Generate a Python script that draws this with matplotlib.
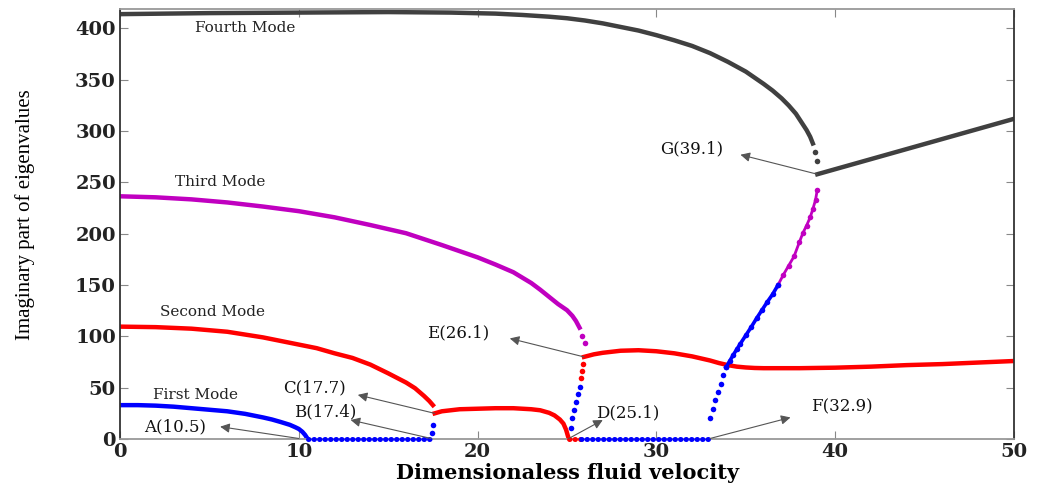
import matplotlib
matplotlib.use("Agg")
import matplotlib.pyplot as plt

BLUE = "#0000ff"
RED = "#ff0000"
MAGENTA = "#c000c0"
GREY = "#404040"

# first mode (blue)
m1_x = [0, 1, 2, 3, 4, 5, 6, 7, 8, 8.5, 9, 9.5, 9.8, 10, 10.2, 10.35, 10.5]
m1_y = [33, 33, 32.5, 31.5, 30, 28.5, 27, 24.5, 21, 19, 16.5, 13.8, 11.5, 9.8, 7, 4, 0]
m1_zero_x = [10.5, 17.4]
m1_jump_x = [17.45, 17.5]
m1_jump_y = [6, 14]

# second mode (red)
m2a_x = [0, 2, 4, 6, 8, 10, 11, 12, 13, 14, 15, 16, 16.5, 17, 17.3, 17.5]
m2a_y = [109.5, 109, 107.5, 104.5, 99, 92, 88.5, 83.5, 79, 72.5, 64, 55, 49.5, 42, 37, 33]
m2b_x = [17.6, 18, 18.5, 19, 20, 21, 22, 23, 23.5, 24, 24.3, 24.6, 24.8, 24.95, 25.1]
m2b_y = [25, 27, 28, 29, 29.5, 30, 30, 29, 28, 25.5, 23, 19, 15, 9, 0]
m2_zero_x = [25.1, 25.8]
mix_blue_x = [25.2, 25.3, 25.4, 25.5, 25.6, 25.7]
mix_blue_y = [11, 20, 28, 36, 44, 51]
mix_red_x = [25.8, 25.85, 25.9]
mix_red_y = [59, 66, 73]
m2c_x = [25.95, 26.5, 27, 28, 29, 30, 31, 32, 32.5, 33, 33.5, 34, 34.5, 35, 35.5, 36, 38, 40,
         42, 44, 46, 48, 50]
m2c_y = [80, 82.5, 84, 86, 86.5, 85.5, 83.5, 80.5, 78.5, 76.5, 74, 72, 70.5, 69.7, 69.2, 69,
         69, 69.5, 70.5, 72, 73, 74.5, 76]

# blue branch rising after F
b_zero_x = [25.8, 32.9]
b_rise_x = [33.0, 33.15, 33.3, 33.45, 33.6, 33.75, 33.9, 34.1, 34.3, 34.5, 34.7, 35.0,
            35.3, 35.6, 35.9, 36.2, 36.5, 36.8]
b_rise_y = [20, 29, 38, 46, 54, 62, 70, 76, 82, 87.5, 93, 101, 109, 117.5, 125.5, 133.5, 141, 150]

# third mode (magenta)
m3_x = [0, 2, 4, 6, 8, 10, 12, 14, 16, 18, 20, 21, 22, 23, 23.5, 24, 24.5, 25, 25.3, 25.5, 25.7]
m3_y = [236.5, 235.5, 233.5, 230.5, 226.5, 222, 216, 208.5, 200.5, 189, 177, 170, 162.5, 152,
        145.5, 138.5, 131.5, 125.5, 120, 115, 108.5]
m3_tail_x = [25.85, 26.0]
m3_tail_y = [100, 93.5]
m3_rise_x = [36.8, 37.1, 37.4, 37.7, 38.0, 38.2, 38.4, 38.6, 38.75, 38.9, 39.0]
m3_rise_y = [150, 160, 169, 178, 192, 201, 208, 216, 224, 233, 243]

# fourth mode (dark grey)
m4_x = [0, 5, 10, 15, 18.5, 21, 22.5, 24, 25, 26, 27, 28, 29, 30, 31, 32, 33, 34, 35, 35.5,
        36, 36.5, 37, 37.4, 37.8, 38.1, 38.4, 38.6, 38.75]
m4_y = [414, 415, 415.5, 416, 415.5, 414.5, 413.2, 411.5, 410, 407.8, 405, 401.5, 398, 393.5,
        388.5, 383, 376, 367.5, 358, 352, 346, 339.5, 332, 325, 317, 309, 301, 294.5, 288]
m4_tail_x = [38.88, 38.97]
m4_tail_y = [280, 271]
m4b_x = [39.0, 50]
m4b_y = [258, 312]

# annotations: label, text position, arrow head, point
notes = [
    ("A(10.5)", (3.1, 12), (5.6, 12), (10.0, 0.5)),
    ("B(17.4)", (11.5, 26), (12.9, 18.5), (17.4, 0.5)),
    ("C(17.7)", (10.9, 50), (13.3, 43), (17.6, 25)),
    ("D(25.1)", (28.4, 25), (27.0, 18.5), (25.1, 0.5)),
    ("E(26.1)", (18.9, 103), (21.8, 98), (25.95, 80)),
    ("F(32.9)", (40.4, 31), (37.5, 21), (33.0, 0.5)),
    ("G(39.1)", (32.0, 283), (34.7, 277), (39.0, 258)),
]
modes = [("Fourth Mode", (7.0, 400)), ("Third Mode", (5.6, 250)),
         ("Second Mode", (5.2, 124)), ("First Mode", (4.2, 43))]

fig = plt.figure(figsize=(10.37, 4.84), dpi=100)
ax = fig.add_axes([120 / 1037, 45 / 484, 894 / 1037, 430 / 484])

lw = 3.2
ms = 4
dots = dict(lw=3.6, ls=(0, (0.1, 1.0)), dash_capstyle="round", clip_on=False, zorder=3)
ax.plot(m4_x, m4_y, color=GREY, lw=lw)
ax.plot(m4_tail_x, m4_tail_y, "o", color=GREY, ms=ms, mec="none")
ax.plot(m4b_x, m4b_y, color=GREY, lw=lw)

ax.plot(m3_x, m3_y, color=MAGENTA, lw=lw)
ax.plot(m3_tail_x, m3_tail_y, "o", color=MAGENTA, ms=ms, mec="none")
ax.plot(m3_rise_x, m3_rise_y, "o-", color=MAGENTA, lw=2, ms=ms, mec="none")

ax.plot(m2a_x, m2a_y, color=RED, lw=lw)
ax.plot(m2b_x, m2b_y, color=RED, lw=lw)
ax.plot(m2_zero_x, [0, 0], color=RED, **dots)
ax.plot(mix_red_x, mix_red_y, "o", color=RED, ms=ms, mec="none")
ax.plot(m2c_x, m2c_y, color=RED, lw=lw)

ax.plot(m1_x, m1_y, color=BLUE, lw=lw)
ax.plot(m1_zero_x, [0, 0], color=BLUE, **dots)
ax.plot(m1_jump_x, m1_jump_y, "o", color=BLUE, ms=ms, mec="none")
ax.plot(mix_blue_x, mix_blue_y, "o", color=BLUE, ms=ms, mec="none")
ax.plot(b_zero_x, [0, 0], color=BLUE, **dots)
ax.plot(b_rise_x[:7], b_rise_y[:7], "o", color=BLUE, ms=ms, mec="none")
ax.plot(b_rise_x[6:], b_rise_y[6:], "o-", color=BLUE, lw=2.6, ms=ms, mec="none")

for label, txt, head, pt in notes:
    ax.annotate("", xy=head, xytext=pt,
                arrowprops=dict(arrowstyle="-|>", color="#555555", lw=0.8,
                                mutation_scale=14, shrinkA=0, shrinkB=0))
    ax.text(txt[0], txt[1], label, ha="center", va="center", fontsize=12,
            family="DejaVu Serif", color="#111111")

for label, pos in modes:
    ax.text(pos[0], pos[1], label, ha="center", va="center", fontsize=11,
            family="DejaVu Serif", color="#222222")

ax.set_xlim(0, 50)
ax.set_ylim(0, 419)
ax.set_xticks(range(0, 51, 10))
ax.set_yticks(range(0, 401, 50))
ax.tick_params(direction="in", length=6, top=True, right=True, color="#888888",
               labelsize=14, pad=3)
for lab in ax.get_xticklabels() + ax.get_yticklabels():
    lab.set_family("DejaVu Serif")
    lab.set_fontweight("bold")
    lab.set_color("#222222")
ax.spines["left"].set_color("#333333")
ax.spines["right"].set_color("#333333")
ax.spines["top"].set_color("#999999")
ax.spines["bottom"].set_color("#999999")
for s in ax.spines.values():
    s.set_linewidth(1.3)

ax.set_xlabel("Dimensionaless fluid velocity", family="DejaVu Serif", fontweight="bold",
              fontsize=15, labelpad=1)
fig.text(25 / 1037, 1 - 215 / 484, "Imaginary part of eigenvalues", rotation=90,
         ha="center", va="center", family="Liberation Serif", fontsize=15)

fig.savefig("out.png", dpi=100)
